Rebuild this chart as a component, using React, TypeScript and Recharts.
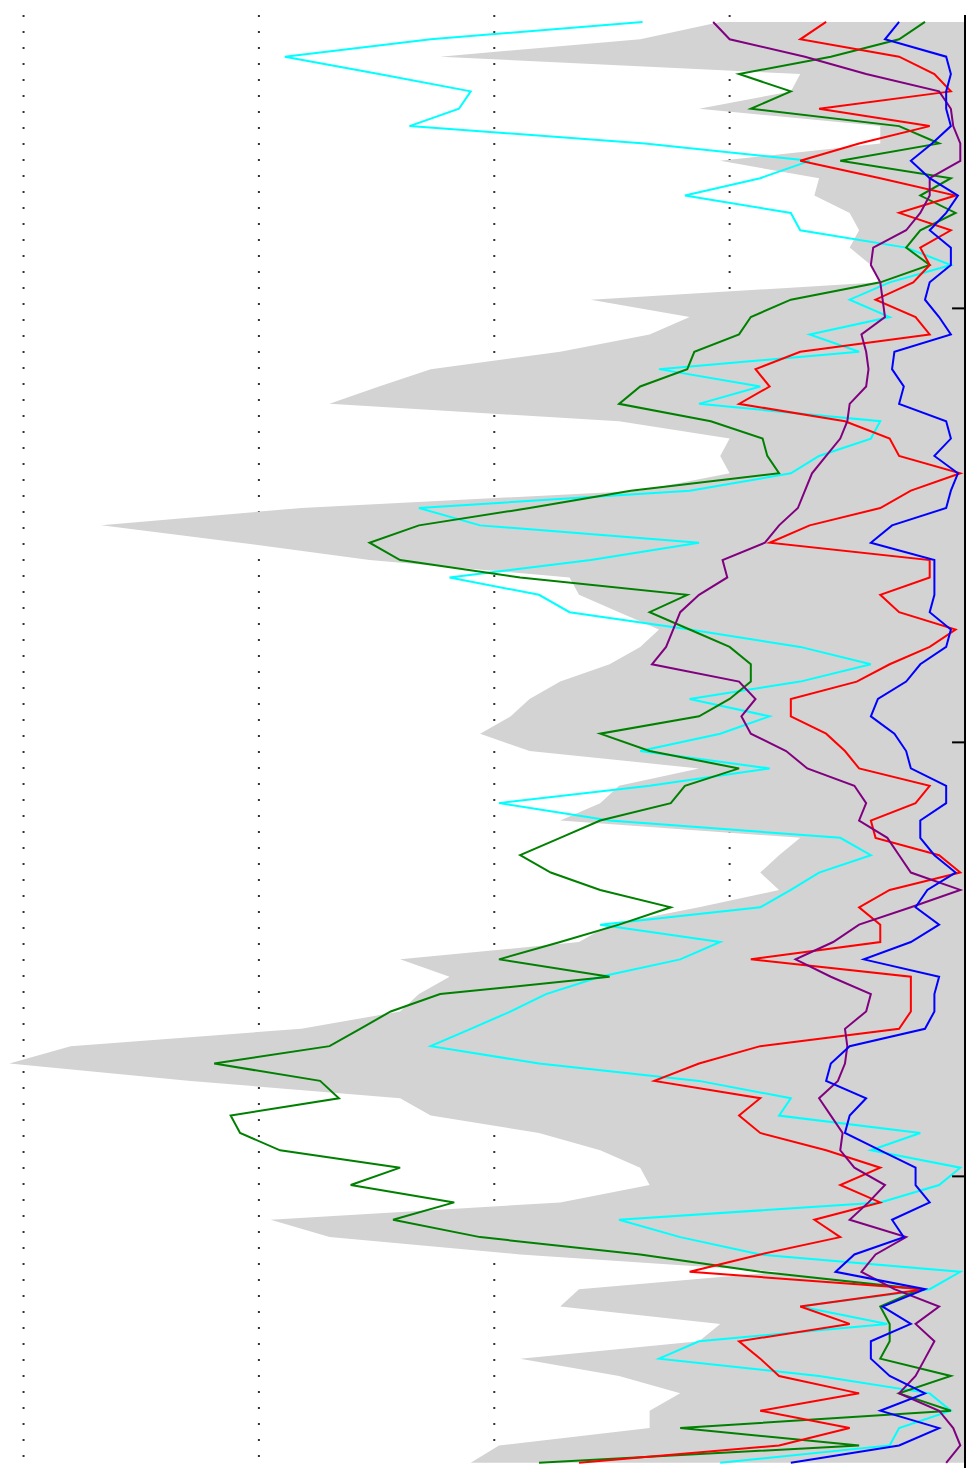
import { ComposedChart, Line, Area, XAxis, YAxis, CartesianGrid, ReferenceLine } from 'recharts';

// sample positions along the (vertical) time axis
const times = [
  17, 19, 21, 23, 25, 27, 29, 31, 33, 35, 37, 39, 41, 43, 45, 47, 49, 51, 53, 55,
  57, 59, 61, 63, 65, 67, 69, 71, 73, 75, 77, 79, 81, 83, 85, 87, 89, 91, 93, 95,
  97, 99, 101, 103, 105, 107, 109, 111, 113, 115, 117, 119, 121, 123, 125, 127, 129, 131, 133, 135,
  137, 139, 141, 143, 145, 147, 149, 151, 153, 155, 157, 159, 161, 163, 165, 167, 169, 171, 173, 175,
  177, 179, 181, 183,
];

const timeTicks = [50, 100, 150];
const valueTicks = [1, 2, 3, 4];

const cyan = [
  1.37, 2.27, 2.89, 2.49, 2.10, 2.15, 2.36, 1.36, 0.66, 0.87,
  1.19, 0.74, 0.70, 0.25, 0.06, 0.32, 0.49, 0.32, 0.66, 0.45,
  1.30, 0.87, 1.13, 0.36, 0.40, 0.62, 0.74, 1.17, 2.32, 2.06,
  1.13, 1.59, 2.19, 1.81, 1.68, 1.17, 0.70, 0.40, 0.70, 1.17,
  0.83, 1.04, 1.38, 0.83, 1.34, 1.98, 1.51, 0.53, 0.40, 0.62,
  0.74, 0.87, 1.55, 1.04, 1.21, 1.55, 1.78, 1.93, 2.10, 2.27,
  1.81, 1.13, 0.74, 0.79, 0.19, 0.40, 0.02, 0.11, 0.36, 1.47,
  1.21, 0.87, 0.02, 0.15, 0.70, 0.33, 1.13, 1.30, 0.62, 0.15,
  0.06, 0.28, 0.32, 1.04,
];

const green = [
  0.17, 0.28, 0.57, 0.96, 0.74, 0.91, 0.28, 0.11, 0.53, 0.06,
  0.19, 0.04, 0.19, 0.25, 0.15, 0.36, 0.74, 0.91, 0.96, 1.15,
  1.18, 1.38, 1.47, 1.08, 0.86, 0.84, 0.79, 1.42, 1.85, 2.32,
  2.53, 2.40, 1.89, 1.18, 1.34, 1.17, 1.00, 0.91, 0.91, 1.00,
  1.13, 1.55, 1.34, 0.96, 1.19, 1.25, 1.55, 1.72, 1.89, 1.76,
  1.55, 1.25, 1.47, 1.72, 1.98, 1.51, 2.23, 2.44, 2.57, 2.70,
  3.19, 2.74, 2.66, 3.12, 3.08, 2.91, 2.40, 2.61, 2.17, 2.43,
  2.06, 1.38, 0.87, 0.19, 0.36, 0.32, 0.32, 0.36, 0.06, 0.28,
  0.06, 1.21, 0.45, 1.81,
];

const red = [
  0.59, 0.70, 0.28, 0.13, 0.06, 0.62, 0.15, 0.45, 0.70, 0.36,
  0.04, 0.28, 0.06, 0.19, 0.15, 0.22, 0.38, 0.21, 0.15, 0.70,
  0.89, 0.83, 0.96, 0.51, 0.32, 0.28, 0.02, 0.23, 0.36, 0.66,
  0.83, 0.15, 0.15, 0.36, 0.28, 0.04, 0.15, 0.32, 0.46, 0.74,
  0.74, 0.59, 0.51, 0.45, 0.15, 0.21, 0.40, 0.38, 0.11, 0.02,
  0.32, 0.45, 0.36, 0.36, 0.91, 0.23, 0.23, 0.23, 0.28, 0.87,
  1.13, 1.32, 0.87, 0.96, 0.87, 0.59, 0.36, 0.53, 0.36, 0.64,
  0.53, 0.87, 1.17, 0.17, 0.70, 0.49, 0.96, 0.87, 0.79, 0.45,
  0.87, 0.49, 0.79, 1.64,
];

const purple = [
  1.07, 1.00, 0.68, 0.42, 0.11, 0.06, 0.05, 0.02, 0.02, 0.15,
  0.15, 0.19, 0.25, 0.39, 0.40, 0.36, 0.35, 0.34, 0.44, 0.42,
  0.41, 0.42, 0.49, 0.50, 0.53, 0.59, 0.65, 0.68, 0.71, 0.79,
  0.85, 1.03, 1.01, 1.13, 1.21, 1.24, 1.27, 1.33, 0.96, 0.89,
  0.95, 0.91, 0.76, 0.67, 0.47, 0.42, 0.45, 0.33, 0.28, 0.23,
  0.02, 0.23, 0.45, 0.56, 0.72, 0.57, 0.40, 0.42, 0.51, 0.50,
  0.51, 0.54, 0.62, 0.57, 0.52, 0.53, 0.47, 0.34, 0.41, 0.49,
  0.25, 0.38, 0.44, 0.30, 0.11, 0.21, 0.13, 0.17, 0.21, 0.28,
  0.11, 0.05, 0.02, 0.08,
];

const blue = [
  0.28, 0.34, 0.08, 0.06, 0.08, 0.08, 0.06, 0.14, 0.23, 0.15,
  0.03, 0.08, 0.15, 0.06, 0.06, 0.15, 0.17, 0.11, 0.06, 0.30,
  0.31, 0.26, 0.28, 0.08, 0.06, 0.13, 0.03, 0.06, 0.08, 0.31,
  0.40, 0.13, 0.13, 0.13, 0.15, 0.06, 0.08, 0.19, 0.25, 0.37,
  0.40, 0.30, 0.25, 0.23, 0.08, 0.08, 0.19, 0.19, 0.13, 0.04,
  0.16, 0.21, 0.11, 0.23, 0.43, 0.11, 0.13, 0.13, 0.17, 0.49,
  0.57, 0.59, 0.42, 0.49, 0.51, 0.36, 0.21, 0.21, 0.15, 0.31,
  0.26, 0.47, 0.55, 0.17, 0.35, 0.23, 0.40, 0.40, 0.32, 0.17,
  0.36, 0.11, 0.28, 0.74,
];

// outer edge of the grey band of ensemble members
const band = [
  1.04, 1.38, 2.23, 0.70, 0.74, 1.13, 0.36, 0.36, 1.04, 0.62,
  0.64, 0.49, 0.45, 0.49, 0.40, 0.36, 1.59, 1.17, 1.34, 1.72,
  2.27, 2.49, 2.70, 1.47, 1.00, 1.04, 1.00, 1.38, 2.82, 3.67,
  3.08, 2.53, 1.68, 1.64, 1.47, 1.30, 1.38, 1.51, 1.72, 1.85,
  1.93, 2.06, 1.85, 1.13, 1.47, 1.55, 1.72, 0.70, 0.79, 0.87,
  0.79, 1.13, 1.51, 1.64, 2.40, 2.19, 2.32, 2.40, 2.82, 3.80,
  4.06, 3.29, 2.40, 2.27, 1.81, 1.55, 1.38, 1.34, 1.72, 2.95,
  2.70, 1.89, 0.79, 1.64, 1.72, 1.04, 1.13, 1.89, 1.47, 1.21,
  1.34, 1.34, 1.98, 2.10,
];

const data = times.map((t, i) => ({
  t,
  cyan: cyan[i],
  green: green[i],
  red: red[i],
  purple: purple[i],
  blue: blue[i],
  band: band[i],
}));

export default function App() {
  // the plot runs a little past the left edge of the picture, as in the cropped original
  return (
    <div style={{ position: 'absolute', left: -20, top: 0, background: '#fff' }}>
      <ComposedChart
        layout="vertical"
        width={998}
        height={1470}
        data={data}
        margin={{ top: 15, right: 13, bottom: 2, left: 0 }}
      >
        <XAxis type="number" domain={[0, 4.185]} reversed hide ticks={valueTicks} allowDataOverflow />
        <YAxis
          type="number"
          dataKey="t"
          domain={[16.2, 183.6]}
          orientation="right"
          mirror
          ticks={timeTicks}
          tick={false}
          tickLine={false}
          axisLine={{ stroke: '#000', strokeWidth: 2 }}
          allowDataOverflow
        />
        <Area
          type="linear"
          dataKey="band"
          stroke="none"
          fill="#d3d3d3"
          fillOpacity={1}
          isAnimationActive={false}
        />
        <CartesianGrid
          horizontal={false}
          stroke="#333"
          strokeWidth={2}
          strokeDasharray="2 14"
        />
        <Line type="linear" dataKey="cyan" stroke="#00ffff" strokeWidth={2} dot={false} isAnimationActive={false} />
        <Line type="linear" dataKey="green" stroke="#008000" strokeWidth={2} dot={false} isAnimationActive={false} />
        <Line type="linear" dataKey="red" stroke="#ff0000" strokeWidth={2} dot={false} isAnimationActive={false} />
        <Line type="linear" dataKey="purple" stroke="#800080" strokeWidth={2} dot={false} isAnimationActive={false} />
        <Line type="linear" dataKey="blue" stroke="#0000ff" strokeWidth={2} dot={false} isAnimationActive={false} />
        {/* inward tick marks on the right-hand axis */}
        {timeTicks.map((t) => (
          <ReferenceLine
            key={t}
            segment={[{ x: 0, y: t }, { x: 0.055, y: t }]}
            stroke="#000"
            strokeWidth={2}
          />
        ))}
      </ComposedChart>
    </div>
  );
}
